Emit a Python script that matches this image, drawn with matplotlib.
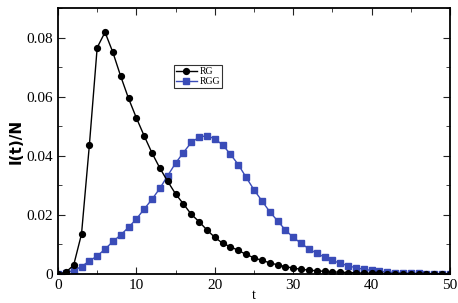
import numpy as np
import matplotlib.pyplot as plt
from matplotlib.ticker import MultipleLocator

t = np.arange(0, 51)

rg = [0.0, 0.0006, 0.003, 0.0135, 0.0435, 0.0766, 0.0818, 0.075, 0.0669, 0.0594,
      0.0528, 0.0467, 0.0409, 0.0358, 0.0313, 0.0271, 0.0237, 0.0202, 0.0177, 0.0149,
      0.0124, 0.0104, 0.0092, 0.0080, 0.0066, 0.0055, 0.0046, 0.0038, 0.0031, 0.0025,
      0.0020, 0.0016, 0.0013, 0.0011, 0.0009, 0.0007, 0.0006, 0.0005, 0.0004, 0.0003,
      0.00025, 0.0002, 0.00016, 0.00013, 0.0001, 0.00008, 0.00006, 0.00005, 0.00004, 0.00003,
      0.00002]

rgg = [0.0, 0.0005, 0.0012, 0.0025, 0.0044, 0.0061, 0.0084, 0.011, 0.0132, 0.0158,
       0.0186, 0.022, 0.0253, 0.029, 0.0333, 0.0375, 0.0411, 0.0445, 0.0463, 0.0468,
       0.0457, 0.0437, 0.0405, 0.0370, 0.0327, 0.0285, 0.0248, 0.0211, 0.018, 0.0149,
       0.0124, 0.0104, 0.0085, 0.0070, 0.0057, 0.0046, 0.0036, 0.0028, 0.0021, 0.0016,
       0.0012, 0.0009, 0.0007, 0.0005, 0.0004, 0.0003, 0.00022, 0.00016, 0.00012, 0.00008,
       0.00005]

plt.rcParams['font.family'] = ['Liberation Serif', 'DejaVu Serif']

fig = plt.figure(figsize=(4.58, 3.03), dpi=100)
ax = fig.add_axes([0.1266, 0.0957, 0.8559, 0.878])

ax.plot(t, rg, '-o', color='black', lw=1.0, ms=4.2, label='RG', zorder=3)
ax.plot(t, rgg, '-s', color='#3a4cb8', lw=1.0, ms=4.0, label='RGG', zorder=2)

ax.set_xlim(0, 50)
ax.set_ylim(0, 0.09)
ax.xaxis.set_major_locator(MultipleLocator(10))
ax.xaxis.set_minor_locator(MultipleLocator(5))
ax.yaxis.set_minor_locator(MultipleLocator(0.01))
ax.set_yticks([0, 0.02, 0.04, 0.06, 0.08])
ax.set_yticklabels(['0', '0.02', '0.04', '0.06', '0.08'])
ax.tick_params(which='both', direction='in', top=True, right=True, labelsize=11, color='#222222')
ax.tick_params(which='major', length=5)
ax.tick_params(which='minor', length=3)
for s in ax.spines.values():
    s.set_linewidth(1.3)

ax.set_xlabel('t', fontsize=10)
ax.xaxis.set_label_coords(0.5, -0.058)
ax.set_ylabel('I(t)/N', fontsize=11, family='DejaVu Sans', fontweight='bold', labelpad=2)

leg = ax.legend(loc='upper left', bbox_to_anchor=(0.295, 0.785), fontsize=7,
                frameon=True, fancybox=False, edgecolor='black', handlelength=2.2,
                borderpad=0.2, labelspacing=0.1, handletextpad=0.3, borderaxespad=0)
leg.get_frame().set_linewidth(0.8)

fig.savefig('out.png', dpi=100)
